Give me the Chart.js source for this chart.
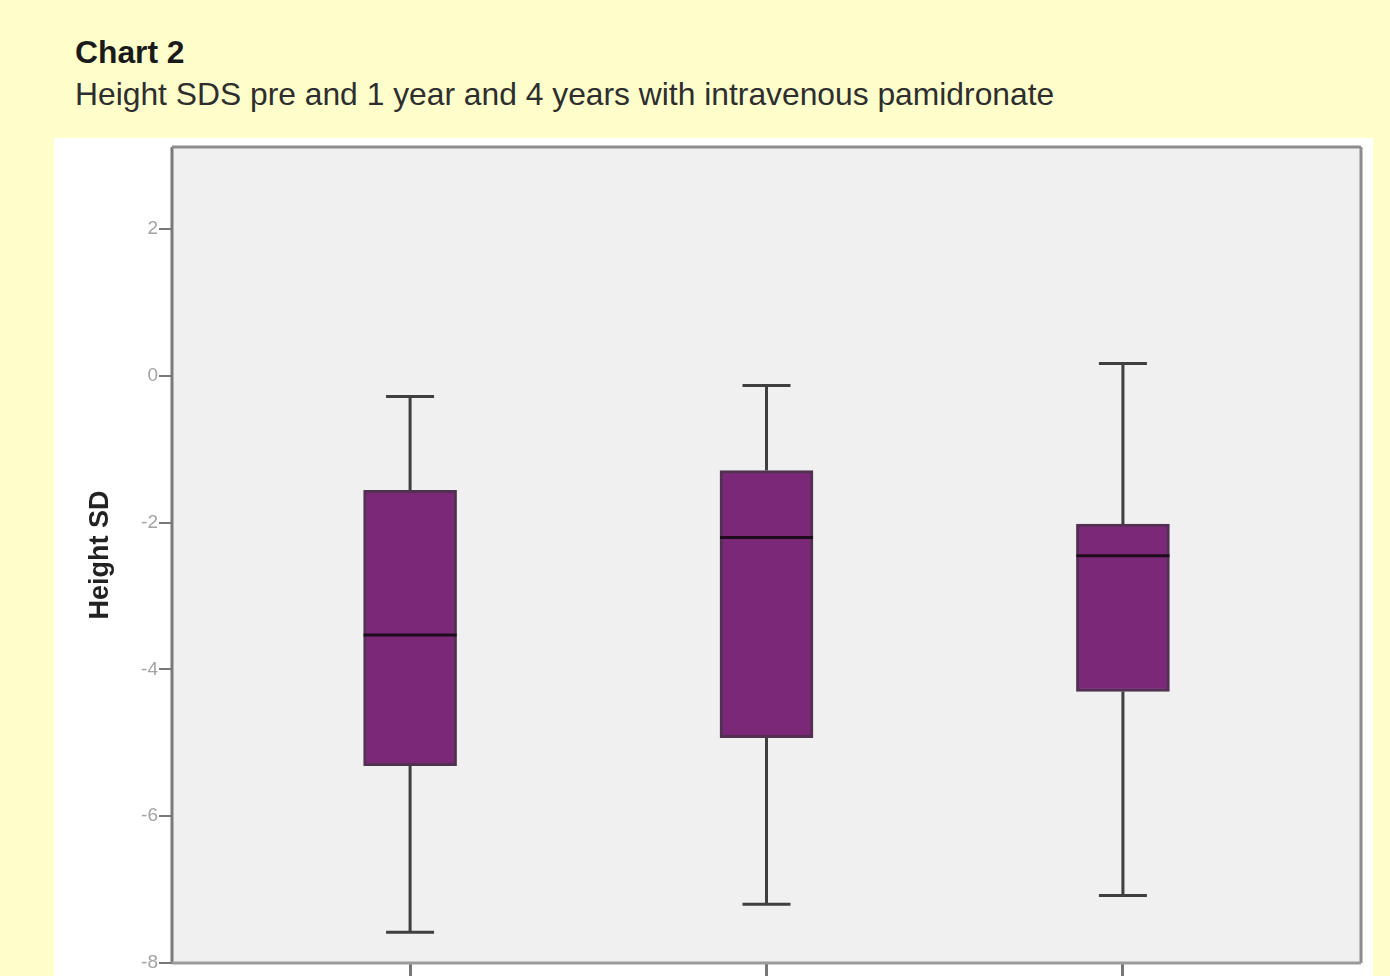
<!DOCTYPE html>
<html>
<head>
<meta charset="utf-8">
<script src="https://cdn.jsdelivr.net/npm/chart.js@4.4.1/dist/chart.umd.min.js"></script>
<style>
  html, body { margin: 0; padding: 0; }
  body {
    width: 1390px; height: 976px; overflow: hidden; position: relative;
    background: #FFFFCC; font-family: "Liberation Sans", Arial, sans-serif;
  }
  .title {
    position: absolute; left: 75px; top: 37px; margin: 0;
    font-size: 31.8px; line-height: 31px; font-weight: bold; color: #1a1a1a;
  }
  .subtitle {
    position: absolute; left: 75px; top: 79px; margin: 0;
    font-size: 31.8px; line-height: 31px; color: #2e2e2e; white-space: nowrap;
  }
  .panel {
    position: absolute; left: 54px; top: 138px; width: 1319px; height: 900px;
    background: #FFFFFF;
  }
  .wrap {
    position: absolute; left: 54px; top: 117px; width: 1319px; height: 900px;
  }
</style>
</head>
<body>
<div class="title">Chart 2</div>
<div class="subtitle">Height SDS pre and 1 year and 4 years with intravenous pamidronate</div>
<div class="panel"></div>
<div class="wrap"><canvas id="c" width="1319" height="900"></canvas></div>
<script>
// Height SDS summary per time point (box plot five-number summaries)
const categories = ['Pre', '1 year', '4 years'];
const whiskerMin = [-7.58, -7.20, -7.08];
const quartile1  = [-5.31, -4.93, -4.30];
const medians    = [-3.53, -2.20, -2.45];
const quartile3  = [-1.56, -1.29, -2.02];
const whiskerMax = [-0.28, -0.13, 0.17];
const yTickValues = [-8, -6, -4, -2, 0, 2];

const boxData = categories.map((c, i) => ({ x: i + 1, y: [quartile1[i], quartile3[i]] }));

// plot background and frame
const framePlugin = {
  id: 'frame',
  beforeDraw(chart) {
    const { ctx, chartArea: a } = chart;
    ctx.save();
    ctx.fillStyle = '#F0F0F0';
    ctx.fillRect(a.left, a.top, a.right - a.left, a.bottom - a.top);
    ctx.restore();
  },
  afterDraw(chart) {
    const { ctx, chartArea: a } = chart;
    ctx.save();
    ctx.lineWidth = 3;
    ctx.strokeStyle = '#7a7a7a';
    ctx.beginPath(); ctx.moveTo(a.left, a.bottom); ctx.lineTo(a.left, a.top); ctx.stroke();
    ctx.strokeStyle = '#8c8c8c';
    ctx.beginPath(); ctx.moveTo(a.left, a.top); ctx.lineTo(a.right, a.top); ctx.stroke();
    ctx.beginPath(); ctx.moveTo(a.right, a.top); ctx.lineTo(a.right, a.bottom); ctx.stroke();
    ctx.strokeStyle = '#9a9a9a';
    ctx.beginPath(); ctx.moveTo(a.left, a.bottom); ctx.lineTo(a.right, a.bottom); ctx.stroke();
    ctx.restore();
  }
};

// whiskers behind the boxes, medians on top
const boxPlotPlugin = {
  id: 'boxplotParts',
  beforeDatasetsDraw(chart) {
    const { ctx, scales: { x, y } } = chart;
    ctx.save();
    ctx.strokeStyle = '#3f3f3f';
    ctx.lineWidth = 3;
    categories.forEach((c, i) => {
      const px = x.getPixelForValue(i + 1);
      const half = 24;
      ctx.beginPath();
      ctx.moveTo(px, y.getPixelForValue(quartile3[i]));
      ctx.lineTo(px, y.getPixelForValue(whiskerMax[i]));
      ctx.moveTo(px, y.getPixelForValue(quartile1[i]));
      ctx.lineTo(px, y.getPixelForValue(whiskerMin[i]));
      ctx.stroke();
      ctx.beginPath();
      ctx.moveTo(px - half, y.getPixelForValue(whiskerMax[i]));
      ctx.lineTo(px + half, y.getPixelForValue(whiskerMax[i]));
      ctx.moveTo(px - half, y.getPixelForValue(whiskerMin[i]));
      ctx.lineTo(px + half, y.getPixelForValue(whiskerMin[i]));
      ctx.stroke();
    });
    ctx.restore();
  },
  afterDatasetsDraw(chart) {
    const { ctx, scales: { x, y } } = chart;
    const meta = chart.getDatasetMeta(0);
    ctx.save();
    ctx.strokeStyle = '#1c0c1c';
    ctx.lineWidth = 3;
    categories.forEach((c, i) => {
      const px = x.getPixelForValue(i + 1);
      const half = meta.data[i].width / 2;
      const py = y.getPixelForValue(medians[i]);
      ctx.beginPath();
      ctx.moveTo(px - half, py);
      ctx.lineTo(px + half, py);
      ctx.stroke();
    });
    ctx.restore();
  }
};

Chart.defaults.font.family = '"Liberation Sans", Arial, sans-serif';

new Chart(document.getElementById('c'), {
  type: 'bar',
  data: {
    datasets: [{
      label: 'Height SD',
      data: boxData,
      backgroundColor: '#7B2878',
      borderColor: '#523052',
      borderWidth: 3,
      borderSkipped: false,
      barThickness: 93
    }]
  },
  options: {
    responsive: false,
    animation: false,
    events: [],
    layout: { padding: { top: 30, right: 12, left: 0, bottom: 0 } },
    plugins: { legend: { display: false }, tooltip: { enabled: false } },
    scales: {
      x: {
        type: 'linear',
        offset: false,
        min: 0.332,
        max: 3.668,
        afterBuildTicks(scale) {
          scale.ticks = categories.map((c, i) => ({ value: i + 1 }));
        },
        afterFit(scale) { scale.height = 54; },
        ticks: { display: false },
        border: { display: false },
        grid: { offset: false, drawOnChartArea: false, drawTicks: true, tickLength: 13, color: '#777777', lineWidth: 3 }
      },
      y: {
        min: -8,
        max: 3.12,
        afterBuildTicks(scale) {
          scale.ticks = yTickValues.map(v => ({ value: v }));
        },
        afterFit(scale) { scale.width = 118; },
        ticks: {
          padding: 1,
          color: '#a3a3a3',
          font: { size: 19 },
          callback: (v) => String(v)
        },
        border: { display: false },
        grid: { drawOnChartArea: false, drawTicks: true, tickLength: 13, color: '#777777', lineWidth: 2 },
        title: {
          display: true,
          text: 'Height SD',
          color: '#222222',
          font: { size: 27, weight: 'bold' },
          padding: { top: 30, bottom: 0 }
        }
      }
    }
  },
  plugins: [framePlugin, boxPlotPlugin]
});
</script>
</body>
</html>
